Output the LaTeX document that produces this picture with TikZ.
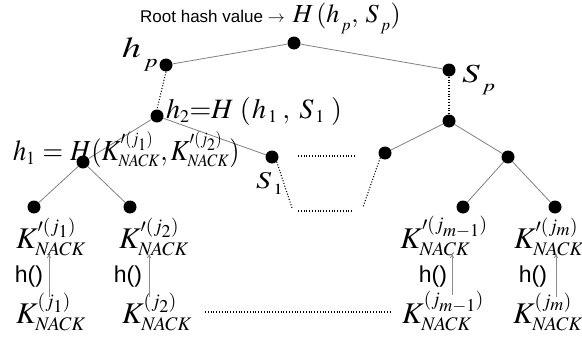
\documentclass[tikz,border=0pt]{standalone}
\usepackage{mathptmx}
\usepackage{fontspec}
\setmainfont{Liberation Serif}
\setsansfont{Liberation Sans}
\renewcommand\defaultscriptratio{.64}
\usetikzlibrary{arrows.meta}
\newcommand\lsub[2]{_{\mkern2mu\lower#1\hbox{$\scriptstyle #2$}}}
\newcommand\KP[1]{K^{\prime(#1)}_{N\mkern-1muACK}}
\newcommand\KPs[1]{K^{\prime\scriptscriptstyle(#1)}_{\scriptscriptstyle N\mkern-1muACK}}
\newcommand\KB[1]{K^{(#1)}_{N\mkern-1muACK}}
\newcommand\xs[2]{\scalebox{#1}[1]{#2}}
\begin{document}
\begin{tikzpicture}[x=1pt,y=-1pt,
  dot/.style={circle,fill=black,inner sep=0pt,minimum size=13pt},
  edge/.style={draw=black!50,line width=0.8pt},
  dotline/.style={line width=1.1pt,dash pattern=on 1pt off 1.8pt},
  lbl/.style={inner sep=0pt,anchor=base},
  big/.style={font=\fontsize{#1}{#1}\selectfont},
  hfun/.style={lbl,font=\sffamily\fontsize{23}{25}\selectfont},
  harrow/.style={draw=black!45,line width=0.8pt,-{To[length=4pt,width=4pt]},shorten <=2pt,shorten >=2pt}]
\useasboundingbox (0,0) rectangle (582,343);
% tree nodes
\node[dot] (root) at (294,43) {};
\node[dot] (hp) at (166,65) {};
\node[dot] (sp) at (449,70) {};
\node[dot] (h2) at (157,116) {};
\node[dot] (sr) at (449,121) {};
\node[dot] (h1) at (83,162) {};
\node[dot] (s1) at (272,157) {};
\node[dot] (l1) at (34,207) {};
\node[dot] (l2) at (130,207) {};
\node[dot] (rl) at (385,153) {};
\node[dot] (rr) at (508,157) {};
\node[dot] (l3) at (463,207) {};
\node[dot] (l4) at (555,207) {};
% edges
\draw[edge] (root) -- (hp);
\draw[edge] (root) -- (sp);
\draw[edge] (h2) -- (h1);
\draw[edge] (h2) -- (s1);
\draw[edge] (h1) -- (l1);
\draw[edge] (h1) -- (l2);
\draw[edge] (sr) -- (rl);
\draw[edge] (sr) -- (rr);
\draw[edge] (rr) -- (l3);
\draw[edge] (rr) -- (l4);
% dotted parts
\coordinate (s1end) at (292,208);
\coordinate (rlend) at (363,207);
\coordinate (t1) at (298,156);
\coordinate (t2) at (355,156);
\coordinate (b1) at (298,211);
\coordinate (b2) at (352,211);
\coordinate (m1) at (205,312);
\coordinate (m2) at (390,312);
\draw[dotline] (hp.south) -- (h2.north);
\draw[dotline] (sp.south) -- (sr.north);
\draw[dotline] (s1.south east) -- (s1end);
\draw[dotline] (rl.south west) -- (rlend);
\draw[dotline] (t1) -- (t2);
\draw[dotline] (b1) -- (b2);
\draw[dotline] (m1) -- (m2);
% labels
\node[lbl,anchor=base west] (title) at (140,22) {\sffamily\fontsize{17}{19}\selectfont Root hash value $\rightarrow$\hspace{8pt}\rmfamily\fontsize{26}{28}\selectfont$H\mkern2mu(h\lsub{5pt}{p},\mkern3mu S\lsub{5pt}{p})$};
\node[lbl,anchor=base west,big=29] (hplbl) at (122,57) {\xs{1.3}{$h\lsub{6pt}{p}$}};
\node[lbl,anchor=base west,big=26] (splbl) at (462,82) {\xs{1.35}{$S\lsub{6pt}{p}$}};
\node[lbl,anchor=base west,big=28] (h2lbl) at (166,118) {$h_2{=}H\mkern4mu(\mkern1mu h_{\mkern2mu 1}\mkern3mu,\mkern4mu S_{\mkern2mu 1}\mkern4mu)$};
\node[lbl,anchor=base west,big=29] (h1lbl) at (13,160) {\xs{0.91}{$h_1\mkern5mu{=}\mkern5mu H(\KPs{j_1},\KPs{j_2})$}};
\node[lbl,anchor=base west,big=24] (s1lbl) at (256,188) {\xs{1.25}{$S\lsub{3pt}{1}$}};
% leaf labels
\node[lbl,big=30] (k1) at (51,248) {$\KP{j_1}$};
\node[lbl,big=30] (k2) at (154,248) {$\KP{j_2}$};
\node[lbl,big=30] (k3) at (444,248) {$\KP{j_{m-1}}$};
\node[lbl,big=30] (k4) at (549,248) {$\KP{j_m}$};
\node[lbl,big=30] (kb1) at (51,323) {$\KB{j_1}$};
\node[lbl,big=30] (kb2) at (157,323) {$\KB{j_2}$};
\node[lbl,big=30] (kb3) at (443,323) {$\KB{j_{m-1}}$};
\node[lbl,big=30] (kb4) at (548,323) {$\KB{j_m}$};
% h() labels
\node[hfun] (f1) at (29,282) {h()};
\node[hfun] (f2) at (128,282) {h()};
\node[hfun] (f3) at (433,282) {h()};
\node[hfun] (f4) at (533,282) {h()};
% arrows
\draw[harrow] ([xshift=-2pt,yshift=-6pt]kb1.north) -- ([xshift=-2pt,yshift=4pt]k1.south);
\draw[harrow] ([xshift=-8pt,yshift=-6pt]kb2.north) -- ([xshift=-5pt,yshift=4pt]k2.south);
\draw[harrow] ([xshift=9pt,yshift=-6pt]kb3.north) -- ([xshift=8pt,yshift=4pt]k3.south);
\draw[harrow] ([xshift=8pt,yshift=-6pt]kb4.north) -- ([xshift=7pt,yshift=4pt]k4.south);
\end{tikzpicture}
\end{document}
